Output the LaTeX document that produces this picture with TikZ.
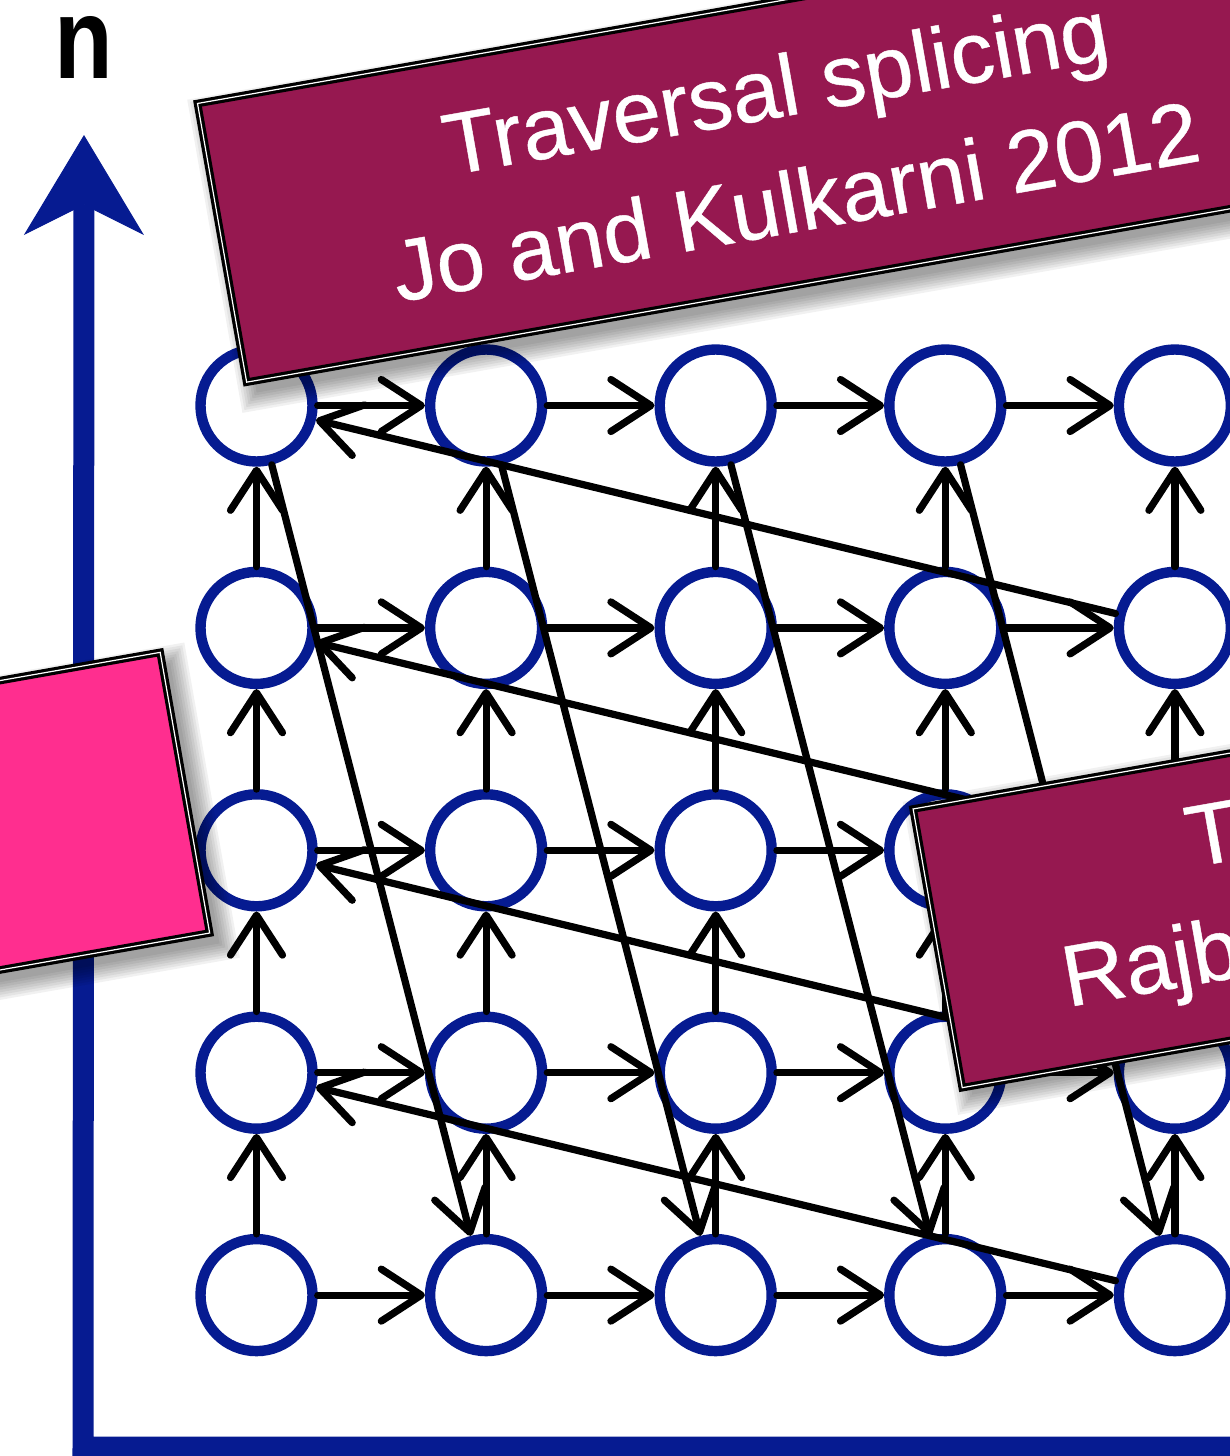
\documentclass[tikz,border=0pt]{standalone}
\usepackage{fontspec}
\setmainfont{Liberation Sans}
\newfontfamily\tagfont[FakeBold=0.5]{Liberation Sans}
\usetikzlibrary{arrows.meta}

\definecolor{nodeblue}{RGB}{6,27,145}
\definecolor{tagmaroon}{RGB}{150,24,80}
\definecolor{tagpink}{RGB}{255,46,143}

% soft shadow under a tag: centre x, centre y, half width, half height (px)
\def\tagshade#1#2#3#4{%
  \begin{scope}[shift={(#1,#2)}, rotate=10]
    \foreach \k in {0,...,7}
      \fill[black, opacity=0.055]
        ({-#3+8-\k*2.5},{-#4+12-\k*2.5}) rectangle ({#3+8+\k*2.5},{#4+12+\k*2.5});
  \end{scope}}

\begin{document}
\begin{tikzpicture}[x=0.5pt, y=-0.5pt,
  vtx/.style={circle, draw=nodeblue, line width=5.2pt, minimum size=56pt, inner sep=0pt},
  conn/.style={line width=3.6pt, black, line cap=round,
    -{Straight Barb[length=20pt, width=26pt, round]}},
  axis/.style={line width=10.5pt, nodeblue, line join=miter,
    -{Stealth[length=50pt, width=60pt, inset=15pt, line width=0.5pt]}},
  tag/.style={draw=black, line width=1.6pt, double=white, double distance=0.6pt,
    rotate=10, inner sep=0pt, text=white, align=center,
    font=\tagfont\fontsize{43.5}{58}\selectfont},
]
\useasboundingbox (0,0) rectangle (1230,1456);
\clip (0,0) rectangle (1230,1456);

% axes
\coordinate (origin) at (83,1447);
\coordinate (xend) at (1320,1447);
\coordinate (ytip) at (84,135);
\draw[axis] (xend) -- (origin) -- (ytip);

% grid of states
\foreach \c in {1,...,5}
  \foreach \r in {1,...,5}
    \node[vtx] (v\c\r) at ({256.5+229.6*(\c-1)},{405.5+222.4*(\r-1)}) {};

% steps along each row
\foreach \r in {1,...,5}
  \foreach \c/\n in {1/2,2/3,3/4,4/5}
    \draw[conn] (v\c\r) -- (v\n\r);

% steps up each column
\foreach \c in {1,...,5}
  \foreach \r/\m in {1/2,2/3,3/4,4/5}
    \draw[conn] (v\c\m) -- (v\c\r);

% splices: top of one column to bottom of the next
\foreach \c/\n in {1/2,2/3,3/4,4/5}
  \draw[conn] (v\c1) -- (v\n5);

% splices: end of one row to start of the row above
\foreach \r/\m in {1/2,2/3,3/4,4/5}
  \draw[conn] (v5\m) -- (v1\r);

% tags
\tagshade{-378.4}{892}{572}{142.5}
\node[tag, fill=tagpink, minimum width=572pt, minimum height=142.5pt]
  (pinktag) at (-378.4,892) {};

\tagshade{785.4}{143.5}{572}{141.5}
\node[tag, fill=tagmaroon, minimum width=572pt, minimum height=141.5pt]
  (splicetag) at (785.4,143.5) {Traversal splicing\\Jo and Kulkarni 2012};

\tagshade{1501}{845.5}{572}{141.5}
\node[tag, fill=tagmaroon, minimum width=572pt, minimum height=141.5pt]
  (fusiontag) at (1501,849) {Traversal fusion\\Rajbhandari et al. 2016};

% axis label
\node[inner sep=0pt, font=\fontsize{48}{48}\selectfont\bfseries] (nlabel) at (83.5,47)
  {\scalebox{1}[1.2]{n}};
\end{tikzpicture}
\end{document}
